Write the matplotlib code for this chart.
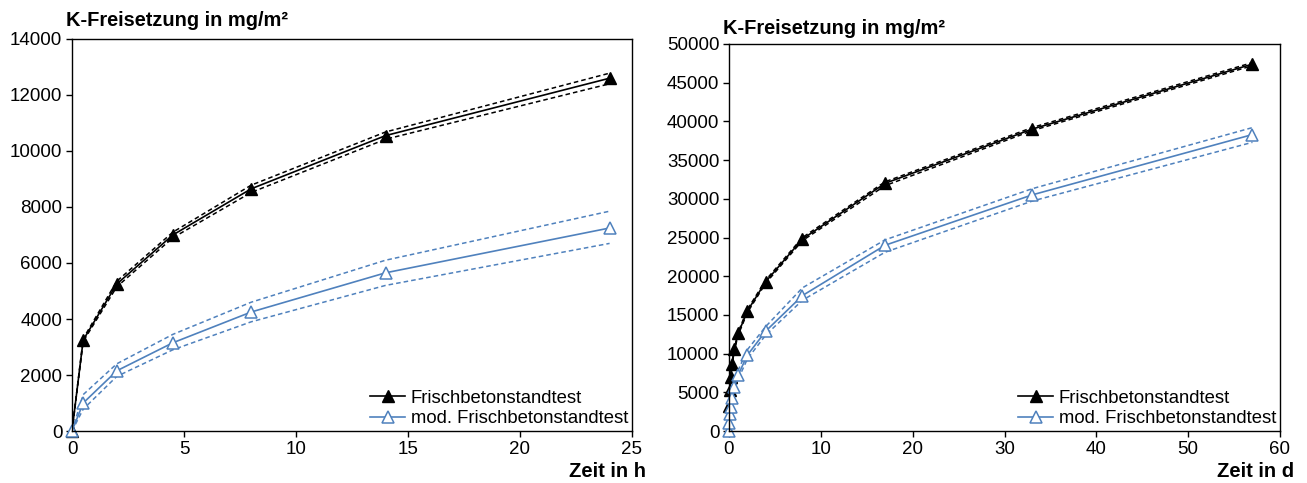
import matplotlib
matplotlib.use("Agg")
import matplotlib.pyplot as plt

plt.rcParams['font.family'] = ['Liberation Sans', 'DejaVu Sans']

# ---- left chart (hours) ----
t_h = [0, 0.5, 2, 4.5, 8, 14, 24]
fb_h = [0, 3250, 5250, 7000, 8650, 10550, 12600]
fb_h_up = [0, 3300, 5350, 7100, 8780, 10680, 12780]
fb_h_lo = [0, 3200, 5150, 6900, 8520, 10420, 12400]
mod_h = [0, 1000, 2150, 3150, 4250, 5650, 7250]
mod_h_up = [0, 1300, 2400, 3450, 4600, 6100, 7850]
mod_h_lo = [0, 780, 1950, 2900, 3900, 5200, 6700]

# ---- right chart (days) ----
t_d_fb = [0.021, 0.083, 0.1875, 0.333, 0.583, 1, 2, 4, 8, 17, 33, 57]
fb_d = [3250, 5250, 7000, 8650, 10550, 12600, 15500, 19300, 24800, 32000, 39000, 47400]
fb_d_up = [3300, 5350, 7100, 8780, 10680, 12780, 15700, 19500, 25000, 32200, 39200, 47600]
fb_d_lo = [3200, 5150, 6900, 8520, 10420, 12400, 15300, 19100, 24600, 31700, 38800, 47200]
t_d_mod = [0, 0.021, 0.083, 0.1875, 0.333, 0.583, 1, 2, 4, 8, 17, 33, 57]
mod_d = [0, 1000, 2150, 3150, 4250, 5650, 7250, 9800, 12900, 17500, 24000, 30500, 38300]
mod_d_up = [0, 1300, 2400, 3450, 4600, 6100, 7850, 10500, 13500, 18500, 24700, 31300, 39200]
mod_d_lo = [0, 780, 1950, 2900, 3900, 5200, 6700, 9300, 12400, 16900, 23100, 29700, 37300]

labels = ["Frischbetonstandtest", "mod. Frischbetonstandtest"]
BLUE = "#4F81BD"

fig = plt.figure(figsize=(13.07, 4.83), dpi=100)
W, H = 1307, 483
ax1 = fig.add_axes([72/W, 1-431/H, (632-72)/W, (431-39)/H])
ax2 = fig.add_axes([729/W, 1-431/H, (1280-729)/W, (431-44)/H])


def draw(ax, tb, b, bu, bl, tm, m, mu, ml, xmax, xstep, ymax, ystep, xlabel, xlab_x):
    ax.plot(tb, bu, color='black', lw=1.1, ls=(0, (3, 2)))
    ax.plot(tb, bl, color='black', lw=1.1, ls=(0, (3, 2)))
    ax.plot(tm, mu, color=BLUE, lw=1.1, ls=(0, (3, 2)))
    ax.plot(tm, ml, color=BLUE, lw=1.1, ls=(0, (3, 2)))
    ax.plot(tb, b, color='black', lw=1.2, marker='^', ms=8, mfc='black',
            mec='black', label=labels[0], clip_on=False)
    ax.plot(tm, m, color=BLUE, lw=1.2, marker='^', ms=8, mfc='white',
            mec=BLUE, mew=1.1, label=labels[1], clip_on=False)
    ax.set_xlim(0, xmax)
    ax.set_ylim(0, ymax)
    ax.set_xticks(range(0, xmax + 1, xstep))
    ax.set_yticks(range(0, ymax + 1, ystep))
    ax.tick_params(direction='out', length=4, width=1, labelsize=13.5,
                   pad=3, colors='black')
    for s in ax.spines.values():
        s.set_linewidth(1.0)
    ax.legend(loc='lower right', frameon=False, fontsize=13.3,
              handlelength=1.9, handletextpad=0.3, borderaxespad=0.0,
              borderpad=0.2, labelspacing=0.2)
    ax.text(xlab_x, -0.08, xlabel, transform=ax.transAxes, ha='right',
            va='top', fontsize=14.5, fontweight='bold')


draw(ax1, t_h, fb_h, fb_h_up, fb_h_lo, t_h, mod_h, mod_h_up, mod_h_lo,
     25, 5, 14000, 2000, "Zeit in h", 1.025)
draw(ax2, t_d_fb, fb_d, fb_d_up, fb_d_lo, t_d_mod, mod_d, mod_d_up, mod_d_lo,
     60, 10, 50000, 5000, "Zeit in d", 1.025)

fig.text(66/W, 1-20/H, "K-Freisetzung in mg/m²", ha='left', va='center',
         fontsize=14.4, fontweight='bold')
fig.text(723/W, 1-28/H, "K-Freisetzung in mg/m²", ha='left', va='center',
         fontsize=14.4, fontweight='bold')

fig.savefig("out.png", dpi=100)
